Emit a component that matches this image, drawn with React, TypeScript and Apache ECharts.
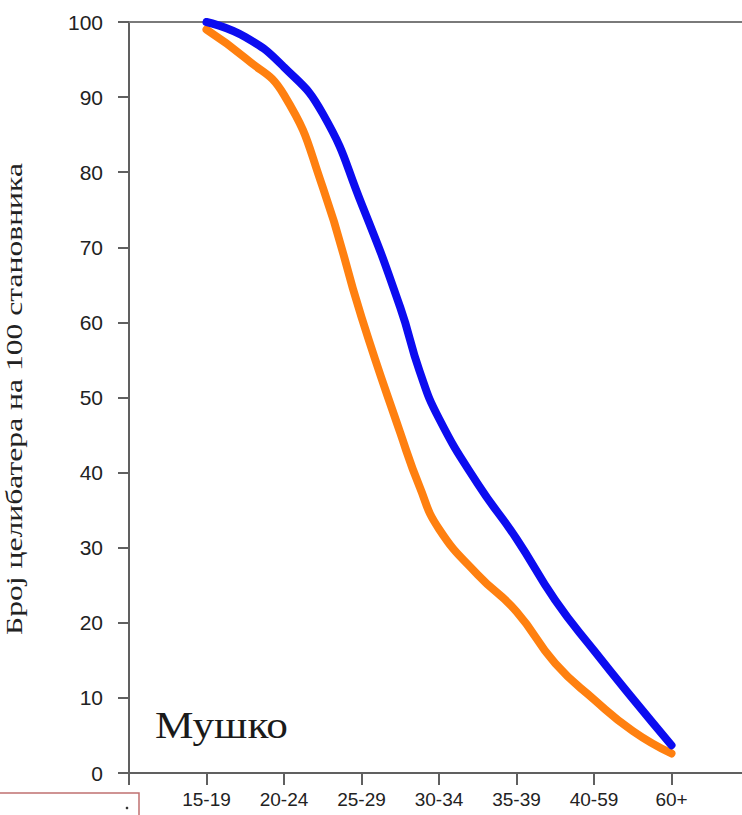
import React, { useEffect, useRef } from "react";
import * as echarts from "echarts";

const categories = ["15-19", "20-24", "25-29", "30-34", "35-39", "40-59", "60+"];
// positions along the age axis (category 1..7, with readings taken between them)
const agePositions = [1, 1.5, 2, 2.5, 3, 3.5, 3.75, 4, 4.5, 5, 5.5, 6, 6.5, 7];
const blueValues = [100, 98, 94, 87.8, 75.8, 62, 53.5, 47.2, 38.5, 31.2, 23.0, 16.3, 9.9, 3.7];
const orangeValues = [99, 95.2, 90.3, 78, 60.7, 45.3, 38.1, 32.5, 26.4, 21.5, 14.6, 9.8, 5.6, 2.6];
const yAxisTitle = "Број целибатера на 100 становника";
const panelTitle = "Мушко";

function measure(text: string, font: string): number {
  const ctx = document.createElement("canvas").getContext("2d");
  if (!ctx) return 1;
  ctx.font = font;
  return ctx.measureText(text).width || 1;
}

export default function App() {
  const ref = useRef<HTMLDivElement>(null);
  useEffect(() => {
    if (!ref.current) return;
    const chart = echarts.init(ref.current, undefined, { renderer: "svg" });
    const yTitleFont = '24px "Liberation Serif"';
    const panelFont = '37px "Liberation Serif"';
    const sY = 472 / measure(yAxisTitle, yTitleFont);
    const sM = 133 / measure(panelTitle, panelFont);
    const pairs = (vals: number[]) => agePositions.map((x, i) => [x, vals[i]]);
    const axisColor = "#606060";
    chart.setOption({
      animation: false,
      backgroundColor: "#ffffff",
      grid: {
        left: 129,
        top: 22,
        bottom: 42,
        width: 620,
        containLabel: false,
        outerBoundsMode: "none",
        show: false,
      },
      xAxis: [
        {
          type: "value",
          min: 0,
          max: 8,
          interval: 1,
          axisLine: { show: true, lineStyle: { color: axisColor, width: 2 } },
          axisTick: { show: true, length: 12, lineStyle: { color: axisColor, width: 2 } },
          splitLine: { show: false },
          axisLabel: {
            margin: 17,
            fontFamily: "Liberation Sans",
            fontSize: 19,
            color: "#222",
            formatter: (v: number) => (v >= 1 && v <= 7 ? categories[Math.round(v) - 1] : ""),
          },
        },
        {
          type: "value",
          position: "top",
          min: 0,
          max: 8,
          interval: 1,
          axisLine: { show: true, lineStyle: { color: "#7a7a7a", width: 2 } },
          axisTick: { show: false },
          axisLabel: { show: false },
          splitLine: { show: false },
        },
      ],
      yAxis: {
        type: "value",
        min: 0,
        max: 100,
        interval: 10,
        axisLine: { show: true, lineStyle: { color: axisColor, width: 2 } },
        axisTick: { show: true, length: 11, lineStyle: { color: axisColor, width: 2 } },
        splitLine: { show: false },
        axisLabel: {
          margin: 26,
          fontFamily: "Liberation Sans",
          fontSize: 21,
          color: "#222",
        },
      },
      series: [
        {
          type: "line",
          data: pairs(orangeValues),
          smooth: 0.5,
          symbol: "none",
          lineStyle: { color: "#ff8010", width: 8, cap: "round", join: "round" },
          z: 3,
        },
        {
          type: "line",
          data: pairs(blueValues),
          smooth: 0.5,
          symbol: "none",
          lineStyle: { color: "#0c0cf0", width: 8, cap: "round", join: "round" },
          z: 4,
        },
      ],
      graphic: [
        {
          type: "text",
          x: 14,
          y: 399,
          rotation: Math.PI / 2,
          scaleX: sY,
          style: {
            text: yAxisTitle,
            font: yTitleFont,
            fill: "#222",
            align: "center",
            verticalAlign: "middle",
          },
        },
        {
          type: "text",
          x: 155,
          y: 726,
          scaleX: sM,
          style: {
            text: panelTitle,
            font: panelFont,
            fill: "#1a1a1a",
            align: "left",
            verticalAlign: "middle",
          },
        },
        {
          type: "rect",
          shape: { x: -2, y: 793, width: 141, height: 40 },
          style: { fill: "none", stroke: "#c07070", lineWidth: 1.5 },
        },
        {
          type: "circle",
          shape: { cx: 127, cy: 808, r: 1.3 },
          style: { fill: "#333" },
        },
      ],
    });
    return () => chart.dispose();
  }, []);
  return (
    <div
      ref={ref}
      style={{ position: "absolute", left: 0, top: 0, width: 742, height: 815 }}
    />
  );
}
